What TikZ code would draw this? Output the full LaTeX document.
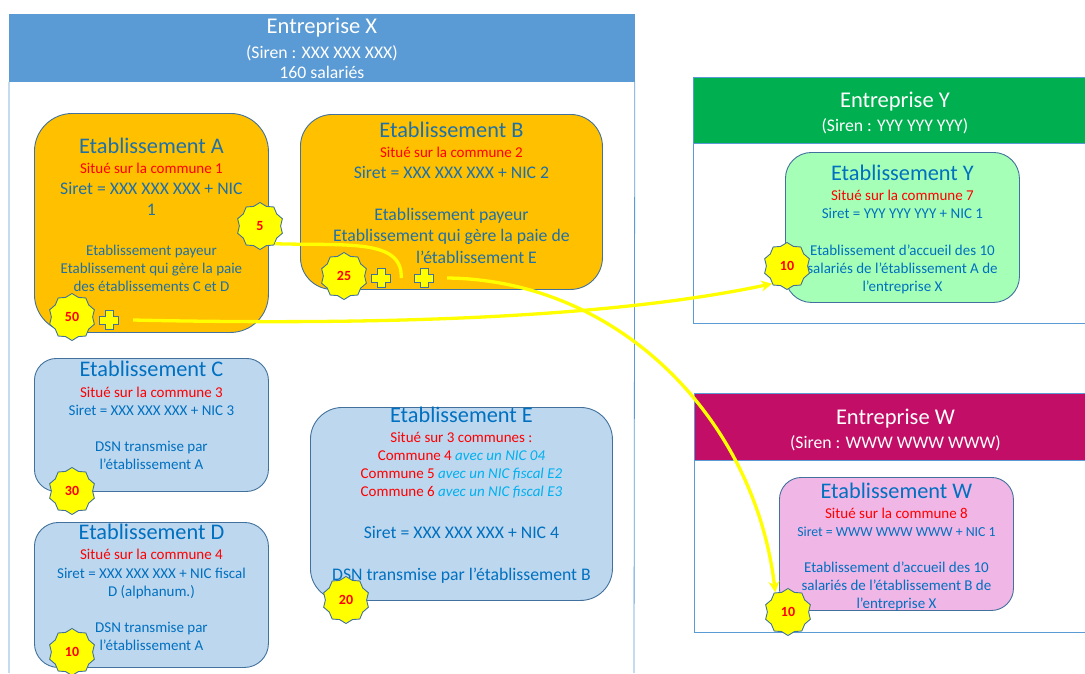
\documentclass[tikz,border=0pt]{standalone}
\usepackage{fontspec}
\setmainfont{Carlito}
\usetikzlibrary{positioning,shapes.geometric,arrows.meta}
\definecolor{headblue}{HTML}{5B9BD5}
\definecolor{headgreen}{HTML}{00B050}
\definecolor{headpink}{HTML}{C20E66}
\definecolor{edgeblue}{HTML}{41719C}
\definecolor{txtblue}{HTML}{0070C0}
\definecolor{txtorange}{HTML}{1F70A8}
\definecolor{nicblue}{HTML}{00B0F0}
\definecolor{fillorange}{HTML}{FFC000}
\definecolor{fillblue}{HTML}{BDD7EE}
\definecolor{fillgreen}{HTML}{A6FFB6}
\definecolor{fillpink}{HTML}{F0B6E6}
\definecolor{markyellow}{HTML}{FFFF00}
\newcommand{\fs}[1]{\fontsize{#1}{18}\selectfont}
\newcommand{\redl}[1]{\textcolor{red}{#1}}
\tikzset{
  headbox/.style={draw=headblue, line width=0.8pt, text=white, align=center, inner sep=0pt, anchor=north west, font=\fontsize{18}{20}\selectfont},
  etabbox/.style={draw=edgeblue, line width=0.9pt, inner sep=0pt, anchor=north west},
  etabtext/.style={align=center, inner sep=0pt, anchor=north, text=txtblue, font=\fontsize{15}{18}\selectfont},
  starmark/.style={star, star points=10, star point ratio=1.14, draw=edgeblue, line width=0.9pt, fill=markyellow,
    minimum size=47pt, inner sep=0pt, text=red, font=\fontsize{14}{16}\selectfont\bfseries},
  plusmark/.style={minimum size=22pt, inner sep=0pt, path picture={
    \draw[edgeblue, line width=0.9pt, fill=markyellow, x=1pt, y=1pt, shift={(path picture bounding box.center)}]
      (-4,-9.7) -- (4,-9.7) -- (4,-4) -- (9.7,-4) -- (9.7,4) -- (4,4) -- (4,9.7) -- (-4,9.7) -- (-4,4) -- (-9.7,4) -- (-9.7,-4) -- (-4,-4) -- cycle;}},
  linkline/.style={draw=markyellow, line width=3.3pt},
  linkarrow/.style={linkline, -{Stealth[length=11pt, width=11pt, fill=markyellow]}}
}
\begin{document}
\begin{tikzpicture}[x=1pt, y=-1pt]
\useasboundingbox (0,0) rectangle (1085,673);
% entreprises
\node[headbox, fill=headblue, minimum width=625pt, minimum height=67pt] (entX) at (9,14)
  {\fs{22.5}Entreprise X\\[5pt]\fs{17.7}(Siren : XXX XXX XXX)\\\fs{17.7}160 salariés};
\node[headbox, fill=headgreen, minimum width=392pt, minimum height=66pt] (entY) at (693,77)
  {\rule{0pt}{20pt}\hspace*{11pt}\fs{22.5}Entreprise Y\\[4pt]\hspace*{11pt}\fs{17.7}(Siren : YYY YYY YYY)};
\node[headbox, fill=headpink, minimum width=391pt, minimum height=67pt] (entW) at (694,393)
  {\rule{0pt}{22pt}\hspace*{11pt}\fs{22.5}Entreprise W\\[4pt]\hspace*{11pt}\fs{17.7}(Siren : WWW WWW WWW)};
\draw[headblue, line width=0.8pt] (entX.south west) -- (9,673) (entX.south east) -- (634,673);
\draw[headblue, line width=0.8pt] (entY.south west) -- (693,323) -- (1085,323);
\draw[headblue, line width=0.8pt] (entW.south west) -- (694,632) -- (1085,632);
% etablissements
\node[etabbox, fill=fillorange, rounded corners=38pt, minimum width=234pt, minimum height=219pt] (etabA) at (34,113) {};
\node[etabbox, fill=fillorange, rounded corners=32pt, minimum width=302pt, minimum height=175pt] (etabB) at (300,114) {};
\node[etabbox, fill=fillblue, rounded corners=22pt, minimum width=234pt, minimum height=133pt] (etabC) at (34,358) {};
\node[etabbox, fill=fillblue, rounded corners=24pt, minimum width=234pt, minimum height=145pt] (etabD) at (34,522) {};
\node[etabbox, fill=fillblue, rounded corners=32pt, minimum width=302pt, minimum height=193pt] (etabE) at (310,407) {};
\node[etabbox, fill=fillgreen, rounded corners=26pt, minimum width=234pt, minimum height=150pt] (etabY) at (785,152) {};
\node[etabbox, fill=fillpink, rounded corners=22pt, minimum width=234pt, minimum height=133pt] (etabW) at (779,477) {};
% textes
\node[etabtext, text=txtorange, below=25pt of etabA.north] (txtA)
  {\fs{22.3}Etablissement A\\[2pt]\fs{15}\redl{Situé sur la commune 1}\\[3pt]\fs{17.7}Siret = XXX XXX XXX + NIC\\[3pt]\fs{17.7}1\\[22pt]\fs{15}Etablissement payeur\\\fs{15}Etablissement qui gère la paie\\\fs{15}des établissements C et D};
\node[etabtext, text=txtorange, below=8pt of etabB.north] (txtB)
  {\fs{22.3}Etablissement B\\[2pt]\fs{15}\redl{Situé sur la commune 2}\\[3pt]\fs{17.7}Siret = XXX XXX XXX + NIC 2\\[24pt]\fs{17.7}Etablissement payeur\\[3pt]\fs{17.7}Etablissement qui gère la paie de\\[4pt]\hspace*{50pt}\fs{17.7}l’établissement E};
\node[etabtext, below=3pt of etabC.north] (txtC)
  {\fs{22.3}Etablissement C\\[3pt]\fs{15}\redl{Situé sur la commune 3}\\\fs{15}Siret = XXX XXX XXX + NIC 3\\[18pt]\fs{15}DSN transmise par\\\fs{15}l’établissement A};
\node[etabtext, below=2pt of etabD.north] (txtD)
  {\fs{22.3}Etablissement D\\[2pt]\fs{15}\redl{Situé sur la commune 4}\\[1pt]\fs{15}Siret = XXX XXX XXX + NIC fiscal\\\fs{15}D (alphanum.)\\[18pt]\fs{15}DSN transmise par\\\fs{15}l’établissement A};
\node[etabtext, below=0pt of etabE.north] (txtE)
  {\fs{22.3}Etablissement E\\[2pt]\fs{15}\redl{Situé sur 3 communes :}\\\fs{15}\redl{Commune 4} \textcolor{nicblue}{\itshape avec un NIC 04}\\\fs{15}\redl{Commune 5} \textcolor{nicblue}{\itshape avec un NIC fiscal E2}\\\fs{15}\redl{Commune 6} \textcolor{nicblue}{\itshape avec un NIC fiscal E3}\\[24pt]\fs{17.7}Siret = XXX XXX XXX + NIC 4\\[24pt]\fs{17.7}DSN transmise par l’établissement B};
\node[etabtext, below=13pt of etabY.north] (txtY)
  {\fs{22.3}Etablissement Y\\[2pt]\fs{15}\redl{Situé sur la commune 7}\\\fs{15}Siret = YYY YYY YYY + NIC 1\\[19pt]\fs{15}Etablissement d’accueil des 10\\\fs{15}salariés de l’établissement A de\\\fs{15}l’entreprise X};
\node[etabtext, below=6pt of etabW.north] (txtW)
  {\fs{22.3}Etablissement W\\[2pt]\fs{15}\redl{Situé sur la commune 8}\\\fs{13.8}Siret = WWW WWW WWW + NIC 1\\[18pt]\fs{15}Etablissement d’accueil des 10\\\fs{15}salariés de l’établissement B de\\\fs{15}l’entreprise X};
% effectifs
\node[starmark] (starAa) at (260,226) {5};
\node[starmark] (starAb) at (72,317) {50};
\node[starmark] (starB) at (344,276) {25};
\node[starmark] (starC) at (72,491) {30};
\node[starmark] (starD) at (72,652) {10};
\node[starmark] (starE) at (346,600) {20};
\node[starmark] (starY) at (787,266) {10};
\node[starmark] (starW) at (788,612) {10};
% plus
\node[plusmark] (plusA) at (109,320) {};
\node[plusmark] (plusBa) at (381,278) {};
\node[plusmark] (plusBb) at (424,278) {};
\coordinate[right=13pt of plusA] (outA);
\coordinate[right=12pt of plusBb] (outB);
\coordinate[right=9pt of plusBa] (inB);
% liens
\draw[linkarrow] (outA) .. controls (400,326) and (620,316) .. (starY.230);
\draw[linkline] (starAa.-50) .. controls (345,246) and (403,238) .. (inB);
\draw[linkarrow] (outB) .. controls (620,280) and (755,420) .. (starW.123);
\end{tikzpicture}
\end{document}
